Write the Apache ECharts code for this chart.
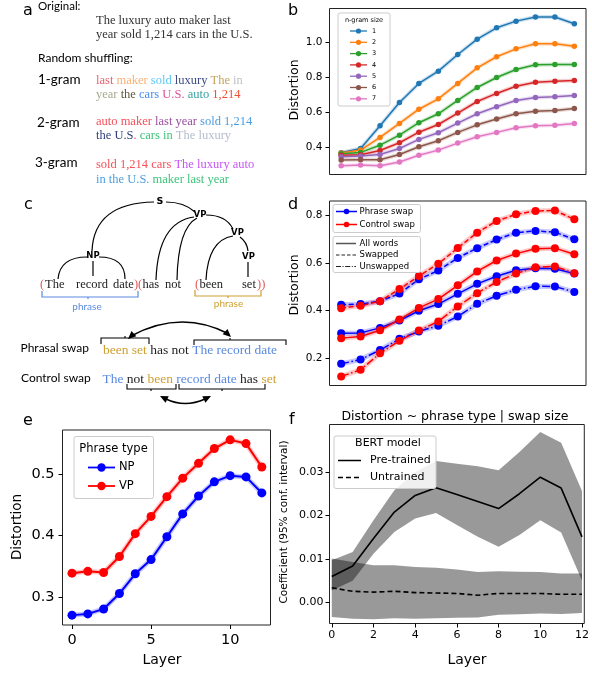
<!DOCTYPE html>
<html>
<head>
<meta charset="utf-8">
<script src="https://cdn.jsdelivr.net/npm/echarts@6/dist/echarts.min.js"></script>
<style>
  html, body { margin: 0; padding: 0; background: #fff; }
  #chart { width: 592px; height: 675px; }
</style>
</head>
<body>
<div id="chart"></div>
<script>
// shared x values (BERT layers)
const layers = [0, 1, 2, 3, 4, 5, 6, 7, 8, 9, 10, 11, 12];

// panel b: distortion per n-gram shuffle size
const ngramNames = ['1', '2', '3', '4', '5', '6', '7'];
const ngram1 = [0.368, 0.392, 0.522, 0.654, 0.763, 0.833, 0.928, 1.015, 1.080, 1.118, 1.142, 1.142, 1.103];
const ngram2 = [0.366, 0.383, 0.455, 0.535, 0.616, 0.675, 0.763, 0.852, 0.915, 0.960, 0.989, 0.989, 0.975];
const ngram3 = [0.362, 0.370, 0.411, 0.468, 0.539, 0.590, 0.666, 0.740, 0.797, 0.842, 0.869, 0.871, 0.871];
const ngram4 = [0.353, 0.356, 0.381, 0.425, 0.485, 0.529, 0.594, 0.660, 0.706, 0.747, 0.770, 0.776, 0.780];
const ngram5 = [0.345, 0.349, 0.358, 0.392, 0.444, 0.482, 0.537, 0.590, 0.630, 0.666, 0.683, 0.687, 0.694];
const ngram6 = [0.326, 0.328, 0.328, 0.358, 0.402, 0.436, 0.484, 0.527, 0.560, 0.590, 0.605, 0.609, 0.620];
const ngram7 = [0.294, 0.298, 0.294, 0.315, 0.354, 0.383, 0.423, 0.459, 0.484, 0.510, 0.522, 0.525, 0.535];

// panel d: phrase swap vs control swap
const phraseSwapped = [0.424, 0.427, 0.439, 0.471, 0.531, 0.568, 0.621, 0.662, 0.698, 0.727, 0.734, 0.729, 0.699];
const controlSwapped = [0.410, 0.420, 0.439, 0.490, 0.545, 0.596, 0.663, 0.727, 0.776, 0.804, 0.818, 0.820, 0.783];
const phraseAll = [0.305, 0.306, 0.327, 0.358, 0.399, 0.427, 0.470, 0.512, 0.544, 0.569, 0.578, 0.575, 0.555];
const controlAll = [0.284, 0.291, 0.317, 0.362, 0.411, 0.448, 0.506, 0.564, 0.610, 0.639, 0.659, 0.662, 0.636];
const phraseUnswapped = [0.176, 0.194, 0.234, 0.281, 0.312, 0.336, 0.375, 0.428, 0.462, 0.487, 0.502, 0.501, 0.478];
const controlUnswapped = [0.123, 0.151, 0.220, 0.273, 0.316, 0.354, 0.417, 0.473, 0.520, 0.555, 0.582, 0.585, 0.557];
const dTicks = [0.2, 0.4, 0.6, 0.8];

// panel e: NP vs VP
const npDist = [0.271, 0.273, 0.281, 0.306, 0.338, 0.361, 0.398, 0.435, 0.464, 0.487, 0.497, 0.495, 0.469];
const vpDist = [0.339, 0.342, 0.340, 0.366, 0.403, 0.431, 0.463, 0.493, 0.517, 0.541, 0.555, 0.549, 0.511];
const eYTicks = [0.3, 0.4, 0.5];
const eXTicks = [0, 5, 10];

// panel f: regression coefficient with 95% CI
const pretrained = [0.0060, 0.0084, 0.0147, 0.0208, 0.0246, 0.0264, 0.0248, 0.0232, 0.0216, 0.0250, 0.0288, 0.0263, 0.0151];
const pretrainedHi = [0.0097, 0.0116, 0.0189, 0.0258, 0.0300, 0.0325, 0.0319, 0.0313, 0.0304, 0.0346, 0.0392, 0.0367, 0.0256];
const pretrainedLo = [0.0028, 0.0050, 0.0112, 0.0162, 0.0193, 0.0206, 0.0178, 0.0151, 0.0128, 0.0155, 0.0189, 0.0161, 0.0051];
const untrained = [0.0034, 0.0026, 0.0024, 0.0026, 0.0023, 0.0022, 0.0021, 0.0017, 0.0021, 0.0021, 0.0021, 0.0019, 0.0019];
const untrainedHi = [0.0101, 0.0093, 0.0086, 0.0086, 0.0082, 0.0080, 0.0076, 0.0070, 0.0072, 0.0071, 0.0070, 0.0067, 0.0067];
const untrainedLo = [-0.0033, -0.0037, -0.0038, -0.0036, -0.0037, -0.0036, -0.0035, -0.0034, -0.0028, -0.0027, -0.0025, -0.0026, -0.0024];
const fYTicks = [0, 0.01, 0.02, 0.03];
const fXTicks = [0, 2, 4, 6, 8, 10, 12];

const SANS = '"DejaVu Sans"';
const SERIF = '"Liberation Serif"';
const LAT = 'Lato';
const tab = ['#1f77b4', '#ff7f0e', '#2ca02c', '#d62728', '#9467bd', '#8c564b', '#e377c2'];
const BLUE = '#0000ff', RED = '#ff0000';

// panel b: visible frame, and an axis range padded out to whole 0.2 steps
const bLeft = 329.5, bTop = 8.5, bWidth = 256.5, bHeight = 166, bMin = 0.244, bMax = 1.19;
const bAxisMin = 0.2, bAxisMax = 1.2, bStep = 0.2;
const bPx = bHeight / (bMax - bMin);

const chart = echarts.init(document.getElementById('chart'));

function pts(ys) {
  return layers.map((l, i) => [l, ys[i]]);
}

// one line with markers plus a pale halo standing in for the CI band
function line(gi, ys, color, size, width, type, halo) {
  const out = [];
  if (halo) {
    out.push({
      type: 'line', xAxisIndex: gi, yAxisIndex: gi, data: pts(ys), silent: true,
      symbol: 'none', lineStyle: {color: color, width: halo, opacity: 0.22}, z: 1
    });
  }
  out.push({
    type: 'line', xAxisIndex: gi, yAxisIndex: gi, data: pts(ys), silent: true,
    symbol: size ? 'circle' : 'none', symbolSize: size,
    itemStyle: {color: color},
    lineStyle: {color: color, width: width, type: type || 'solid'}, z: 2
  });
  return out;
}

function band(gi, lo, hi) {
  return {
    type: 'custom', xAxisIndex: gi, yAxisIndex: gi, data: [[0, 0]], silent: true, z: 1,
    renderItem: function (params, api) {
      const up = layers.map((l, i) => api.coord([l, hi[i]]));
      const down = layers.map((l, i) => api.coord([l, lo[i]])).reverse();
      return {type: 'polygon', shape: {points: up.concat(down)}, style: {fill: 'rgba(0,0,0,0.4)'}};
    }
  };
}

function xAx(gi, min, max, ticks, fs, margin) {
  const a = {
    type: 'value', gridIndex: gi, min: min, max: max, splitLine: {show: false},
    axisLine: {show: false, onZero: false}
  };
  if (!ticks) {
    a.axisTick = {show: false};
    a.axisLabel = {show: false};
  } else {
    a.axisTick = {show: true, length: 4, customValues: ticks, lineStyle: {color: '#000'}};
    a.axisLabel = {customValues: ticks, hideOverlap: false, fontSize: fs,
      fontFamily: 'DejaVu Sans', color: '#000', margin: margin};
  }
  return a;
}

function yAx(gi, min, max, ticks, fs, digits, margin) {
  return {
    type: 'value', gridIndex: gi, min: min, max: max, position: 'left', splitLine: {show: false},
    axisLine: {show: false, onZero: false},
    axisTick: {show: true, length: 4, customValues: ticks, lineStyle: {color: '#000'}},
    axisLabel: {
      customValues: ticks, hideOverlap: false, fontSize: fs, fontFamily: 'DejaVu Sans',
      color: '#000', margin: margin, formatter: v => v.toFixed(digits)
    }
  };
}

// ---------- graphic helpers ----------
function T(x, y, text, font, color, align, rot) {
  return {
    type: 'text', x: x, y: y, rotation: rot || 0, silent: true,
    style: {text: text, font: font, fill: color || '#000', align: align || 'left', verticalAlign: 'middle'}
  };
}
function R(x, y, text, fontSize, family, colors) {
  const rich = {};
  Object.keys(colors).forEach(k => {
    rich[k] = {fill: colors[k], fontSize: fontSize, fontFamily: family, font: fontSize + 'px ' + family};
  });
  return {
    type: 'text', x: x, y: y, silent: true,
    style: {text: text, font: fontSize + 'px ' + family, fontSize: fontSize, fontFamily: family,
      fill: '#000', rich: rich, align: 'left', verticalAlign: 'middle'}
  };
}
function curve(x1, y1, cx, cy, x2, y2, w) {
  return {
    type: 'bezierCurve', silent: true,
    shape: {x1: x1, y1: y1, cpx1: cx, cpy1: cy, x2: x2, y2: y2},
    style: {stroke: '#000', lineWidth: w || 1.2, fill: null}
  };
}
function poly(points, color, w) {
  return {type: 'polyline', silent: true, shape: {points: points}, style: {stroke: color || '#000', lineWidth: w || 1.1, fill: null}};
}
function head(tx, ty, fx, fy) {
  const dx = tx - fx, dy = ty - fy, L = Math.hypot(dx, dy);
  const ux = dx / L, uy = dy / L, len = 8, w = 3.6;
  const bx = tx - ux * len, by = ty - uy * len;
  return {
    type: 'polygon', silent: true,
    shape: {points: [[tx, ty], [bx - uy * w, by + ux * w], [bx + uy * w, by - ux * w]]},
    style: {fill: '#000'}
  };
}
function box(x, y, w, h) {
  return {type: 'rect', silent: true, shape: {x: x, y: y, width: w, height: h, r: 2},
    style: {fill: 'rgba(255,255,255,0.85)', stroke: '#cccccc', lineWidth: 1}, z: 50};
}
function legLine(x1, x2, y, color, dash, marker, w) {
  const g = [{type: 'line', silent: true, shape: {x1: x1, y1: y, x2: x2, y2: y},
    style: {stroke: color, lineWidth: w || 1.5, lineDash: dash || null}, z: 51}];
  if (marker) g.push({type: 'circle', silent: true, shape: {cx: (x1 + x2) / 2, cy: y, r: marker}, style: {fill: color}, z: 51});
  return g;
}
function legText(x, y, text, fs, align) {
  const t = T(x, y, text, fs + 'px ' + SANS, '#000', align);
  t.z = 52;
  return t;
}

const G = [];

// panel b frame (the grid itself is padded to whole tick steps)
G.push({type: 'rect', silent: true, z: 10, shape: {x: bLeft, y: bTop, width: bWidth, height: bHeight},
  style: {fill: null, stroke: '#222', lineWidth: 1}});

// ---------- panel letters ----------
G.push(T(23, 11, 'a', '16px ' + SANS));
G.push(T(288, 11, 'b', '16px ' + SANS));
G.push(T(24, 205, 'c', '16px ' + SANS));
G.push(T(288, 205, 'd', '16px ' + SANS));
G.push(T(23, 421, 'e', '16px ' + SANS));
G.push(T(289, 420, 'f', '16px ' + SANS));

// ---------- panel a ----------
G.push(T(38, 6, 'Original:', '11.5px ' + LAT));
G.push(T(96, 21, 'The luxury auto maker last', '12.5px ' + SERIF, '#333'));
G.push(T(96, 35, 'year sold 1,214 cars in the U.S.', '12.5px ' + SERIF, '#333'));
G.push(T(38, 58, 'Random shuffling:', '12px ' + LAT));
G.push(T(38, 80, '1-gram', '13.5px ' + LAT));
G.push(T(37, 123, '2-gram', '13.5px ' + LAT));
G.push(T(35, 163, '3-gram', '13.5px ' + LAT));
G.push(R(96, 80.5, '{a|last} {b|maker} {c|sold} {d|luxury} {e|The} {f|in}', 12.5, SERIF,
  {a: '#e8616e', b: '#f8b074', c: '#5cc8f5', d: '#3b4a86', e: '#c4a35a', f: '#c0c0c0'}));
G.push(R(96, 94.5, '{a|year} {b|the} {c|cars} {d|U.S.} {e|auto} {f|1,214}', 12.5, SERIF,
  {a: '#a8a890', b: '#5f5a3a', c: '#4a8cf5', d: '#e0509a', e: '#3aa0a0', f: '#f0502f'}));
G.push(R(96, 122, '{a|auto maker} {b|last year} {c|sold 1,214}', 12.5, SERIF,
  {a: '#f5505a', b: '#9b4fa0', c: '#4a9de0'}));
G.push(R(96, 136, '{a|the U.S}{b|.} {c|cars in} {d|The luxury}', 12.5, SERIF,
  {a: '#2e3f7a', b: '#f5505a', c: '#3cc47a', d: '#b4bccc'}));
G.push(R(96, 165, '{a|sold 1,214 cars} {b|The luxury auto}', 12.5, SERIF,
  {a: '#f5505a', b: '#c655f5'}));
G.push(R(96, 179.5, '{a|in the U.S.} {b|maker last year}', 12.5, SERIF,
  {a: '#4a9de0', b: '#3cc47a'}));

// ---------- panel c: parse tree ----------
const PBLUE = '#5a8ae0', PGOLD = '#cfa030', PRED = '#e45a5a';
G.push(curve(154, 202, 94, 203, 92, 251));
G.push(curve(166, 202, 184, 202, 195, 212));
G.push(curve(87, 257, 60, 257, 58, 279));
G.push(poly([[93, 261], [93, 276]], '#000', 1.2));
G.push(curve(99, 257, 125, 257, 125, 279));
G.push(curve(194, 217, 158, 222, 156, 280));
G.push(curve(197, 218, 178, 228, 177, 280));
G.push(curve(206, 215, 226, 215, 233, 229));
G.push(curve(233, 236, 208, 240, 206, 280));
G.push(curve(240, 237, 247, 242, 248, 251));
G.push(poly([[248, 262], [248, 277]], '#000', 1.2));
G.push(T(160, 201.5, 'S', 'bold 9.5px ' + SANS, '#000', 'center'));
G.push(T(200, 214.5, 'VP', 'bold 8.5px ' + SANS, '#000', 'center'));
G.push(T(237.5, 232.7, 'VP', 'bold 8.5px ' + SANS, '#000', 'center'));
G.push(T(93, 256, 'NP', 'bold 8.5px ' + SANS, '#000', 'center'));
G.push(T(248.5, 256.7, 'VP', 'bold 8.5px ' + SANS, '#000', 'center'));
const treeFont = '12.5px ' + SERIF;
G.push(T(40, 285, '(', treeFont, PRED));
G.push(T(45, 285, 'The', treeFont, '#222'));
G.push(T(76, 285, 'record', treeFont, '#222'));
G.push(T(113, 285, 'date', treeFont, '#222'));
G.push(T(134, 285, ')', treeFont, PRED));
G.push(T(138, 285, '(', treeFont, PRED));
G.push(T(142.5, 285, 'has', treeFont, '#222'));
G.push(T(165, 285, 'not', treeFont, '#222'));
G.push(T(195, 285, '(', treeFont, PRED));
G.push(T(199.5, 285, 'been', treeFont, '#222'));
G.push(T(242, 285, 'set', treeFont, '#222'));
G.push(T(257, 285, '))', treeFont, PRED));
G.push(poly([[42, 291], [42, 297], [88, 297], [88, 299], [88, 297], [138, 297], [138, 291]], PBLUE, 1.2));
G.push(T(87, 307, 'phrase', '10px ' + LAT, PBLUE, 'center'));
G.push(poly([[195, 290], [195, 296], [228, 296], [228, 298], [228, 296], [261, 296], [261, 290]], PGOLD, 1.2));
G.push(T(228.5, 304, 'phrase', '10px ' + LAT, PGOLD, 'center'));

// phrasal swap
G.push(T(20.5, 348, 'Phrasal swap', '12px ' + LAT));
G.push(R(103, 350.5, '{g|been set} {k|has not} {b|The record date}', 13.5, SERIF,
  {g: PGOLD, k: '#222', b: PBLUE}));
G.push(poly([[101, 344], [101, 338], [125, 338], [125, 336], [125, 338], [149, 338], [149, 344]], '#000', 1.1));
G.push(poly([[194, 345], [194, 340], [230, 340], [230, 338], [230, 340], [286, 340], [286, 345]], '#000', 1.1));
G.push(curve(131, 336, 181, 309, 229, 334, 1.5));
G.push(head(128, 339, 140, 328));
G.push(head(231, 337, 220, 327));

// control swap
G.push(T(21, 378, 'Control swap', '12px ' + LAT));
G.push(R(102.5, 379, '{b|The} {k|not} {g|been} {b|record date} {k|has} {g|set}', 13.5, SERIF,
  {g: PGOLD, k: '#222', b: PBLUE}));
G.push(poly([[127, 384], [127, 389], [151, 389], [151, 391], [151, 389], [176, 389], [176, 384]], '#000', 1.1));
G.push(poly([[179, 384], [179, 389], [222, 389], [222, 391], [222, 389], [265, 389], [265, 384]], '#000', 1.1));
G.push(curve(166, 399, 185, 408, 205, 399, 1.5));
G.push(head(160, 396, 172, 402));
G.push(head(211, 396, 199, 402));

// ---------- axis titles ----------
G.push(T(295, 90, 'Distortion', '12.5px ' + SANS, '#000', 'center', Math.PI / 2));
G.push(T(295, 285, 'Distortion', '12.5px ' + SANS, '#000', 'center', Math.PI / 2));
G.push(T(17, 527, 'Distortion', '13.5px ' + SANS, '#000', 'center', Math.PI / 2));
G.push(T(162, 660, 'Layer', '14px ' + SANS, '#000', 'center'));
G.push(T(284, 522, 'Coefficient (95% conf. interval)', '10.5px ' + SANS, '#000', 'center', Math.PI / 2));
G.push(T(467, 660, 'Layer', '14px ' + SANS, '#000', 'center'));
G.push(T(455, 416.5, 'Distortion ~ phrase type | swap size', '12.5px ' + SANS, '#000', 'center'));

// ---------- legends ----------
// b
G.push(box(338, 13, 52, 93));
G.push(legText(364, 20, 'n-gram size', 6.5, 'center'));
ngramNames.forEach((n, i) => {
  const y = 31 + i * 11.3;
  legLine(350, 367, y, tab[i], null, 2.6, 1.3).forEach(e => G.push(e));
  G.push(legText(372, y, n, 6.5));
});
// d
G.push(box(333, 204.5, 87.5, 28));
legLine(336, 357, 211.5, BLUE, null, 2.8).forEach(e => G.push(e));
G.push(legText(359.5, 211.5, 'Phrase swap', 8.5));
legLine(336, 357, 224.5, RED, null, 2.8).forEach(e => G.push(e));
G.push(legText(359.5, 224.5, 'Control swap', 8.5));
G.push(box(333, 236.5, 87.5, 36));
legLine(336, 356, 243.5, '#555', null, 0).forEach(e => G.push(e));
G.push(legText(359.5, 243.5, 'All words', 8.5));
legLine(336, 356, 255, '#222', [3.5, 2], 0, 1.2).forEach(e => G.push(e));
G.push(legText(359.5, 255, 'Swapped', 8.5));
legLine(336, 356, 266.5, '#222', [5, 1.6, 1, 1.6], 0, 1.2).forEach(e => G.push(e));
G.push(legText(359.5, 266.5, 'Unswapped', 8.5));
// e
G.push(box(74, 436.5, 79.5, 62));
G.push(legText(113.5, 449, 'Phrase type', 11.5, 'center'));
legLine(88, 115, 467.5, BLUE, null, 4.2, 1.8).forEach(e => G.push(e));
G.push(legText(119, 467.5, 'NP', 11.5));
legLine(88, 115, 486, RED, null, 4.2, 1.8).forEach(e => G.push(e));
G.push(legText(119, 486, 'VP', 11.5));
// f
G.push(box(334, 436, 102, 52.5));
G.push(legText(388, 443.5, 'BERT model', 11, 'center'));
legLine(338, 361, 460.5, '#000', null, 0, 1.5).forEach(e => G.push(e));
G.push(legText(370, 460.5, 'Pre-trained', 11));
legLine(338, 361, 477.5, '#000', [5, 3], 0, 1.5).forEach(e => G.push(e));
G.push(legText(370, 477.5, 'Untrained', 11));

// ---------- series ----------
let series = [];
[ngram1, ngram2, ngram3, ngram4, ngram5, ngram6, ngram7].forEach((ys, i) => {
  series = series.concat(line(0, ys, tab[i], 5.5, 1.5, 'solid', 4));
});
series = series.concat(line(1, phraseSwapped, BLUE, 8, 1.5, [5, 2.5], 5));
series = series.concat(line(1, controlSwapped, RED, 8, 1.5, [5, 2.5], 5));
series = series.concat(line(1, phraseAll, BLUE, 8, 1.5, 'solid', 5));
series = series.concat(line(1, controlAll, RED, 8, 1.5, 'solid', 5));
series = series.concat(line(1, phraseUnswapped, BLUE, 8, 1.5, [8, 2.5, 1.5, 2.5], 5));
series = series.concat(line(1, controlUnswapped, RED, 8, 1.5, [8, 2.5, 1.5, 2.5], 5));
series = series.concat(line(2, npDist, BLUE, 9, 2, 'solid', 5));
series = series.concat(line(2, vpDist, RED, 9, 2, 'solid', 5));
series.push(band(3, pretrainedLo, pretrainedHi));
series.push(band(3, untrainedLo, untrainedHi));
series = series.concat(line(3, pretrained, '#000', 0, 1.6, 'solid', 0));
series = series.concat(line(3, untrained, '#000', 0, 1.6, [5, 3], 0));

const gridStyle = {show: true, borderColor: '#222', borderWidth: 1, backgroundColor: 'transparent'};

// panel b y axis: min is a whole multiple of the step, the hidden end ticks fall outside the frame
const bYAxis = {
  type: 'value', gridIndex: 0, min: bAxisMin, max: bAxisMax, interval: bStep, position: 'left',
  splitLine: {show: false}, axisLine: {show: false, onZero: false},
  axisTick: {show: true, length: 4, lineStyle: {color: '#000'}},
  axisLabel: {
    showMinLabel: false, showMaxLabel: false, hideOverlap: false,
    fontSize: 10.5, fontFamily: 'DejaVu Sans', color: '#000', margin: 7,
    formatter: v => v.toFixed(1)
  }
};

const option = {
  animation: false,
  backgroundColor: '#fff',
  grid: [
    {show: false, left: bLeft, top: bTop - (bAxisMax - bMax) * bPx, width: bWidth,
      height: (bAxisMax - bAxisMin) * bPx},
    Object.assign({left: 329.5, top: 201, width: 256.5, height: 184.5}, gridStyle),
    Object.assign({left: 62.5, top: 430, width: 208, height: 195}, gridStyle),
    Object.assign({left: 329.5, top: 424.5, width: 257, height: 199}, gridStyle)
  ],
  xAxis: [
    xAx(0, -0.6, 12.6),
    xAx(1, -0.6, 12.6),
    xAx(2, -0.6, 12.55, eXTicks, 14.5, 8),
    xAx(3, -0.11, 12.11, fXTicks, 11, 6)
  ],
  yAxis: [
    bYAxis,
    yAx(1, 0.085, 0.86, dTicks, 10.5, 1, 7),
    yAx(2, 0.255, 0.571, eYTicks, 14.5, 1, 8),
    yAx(3, -0.0048, 0.0409, fYTicks, 11, 2, 6)
  ],
  series: series,
  graphic: G
};

chart.setOption(option);
</script>
</body>
</html>
